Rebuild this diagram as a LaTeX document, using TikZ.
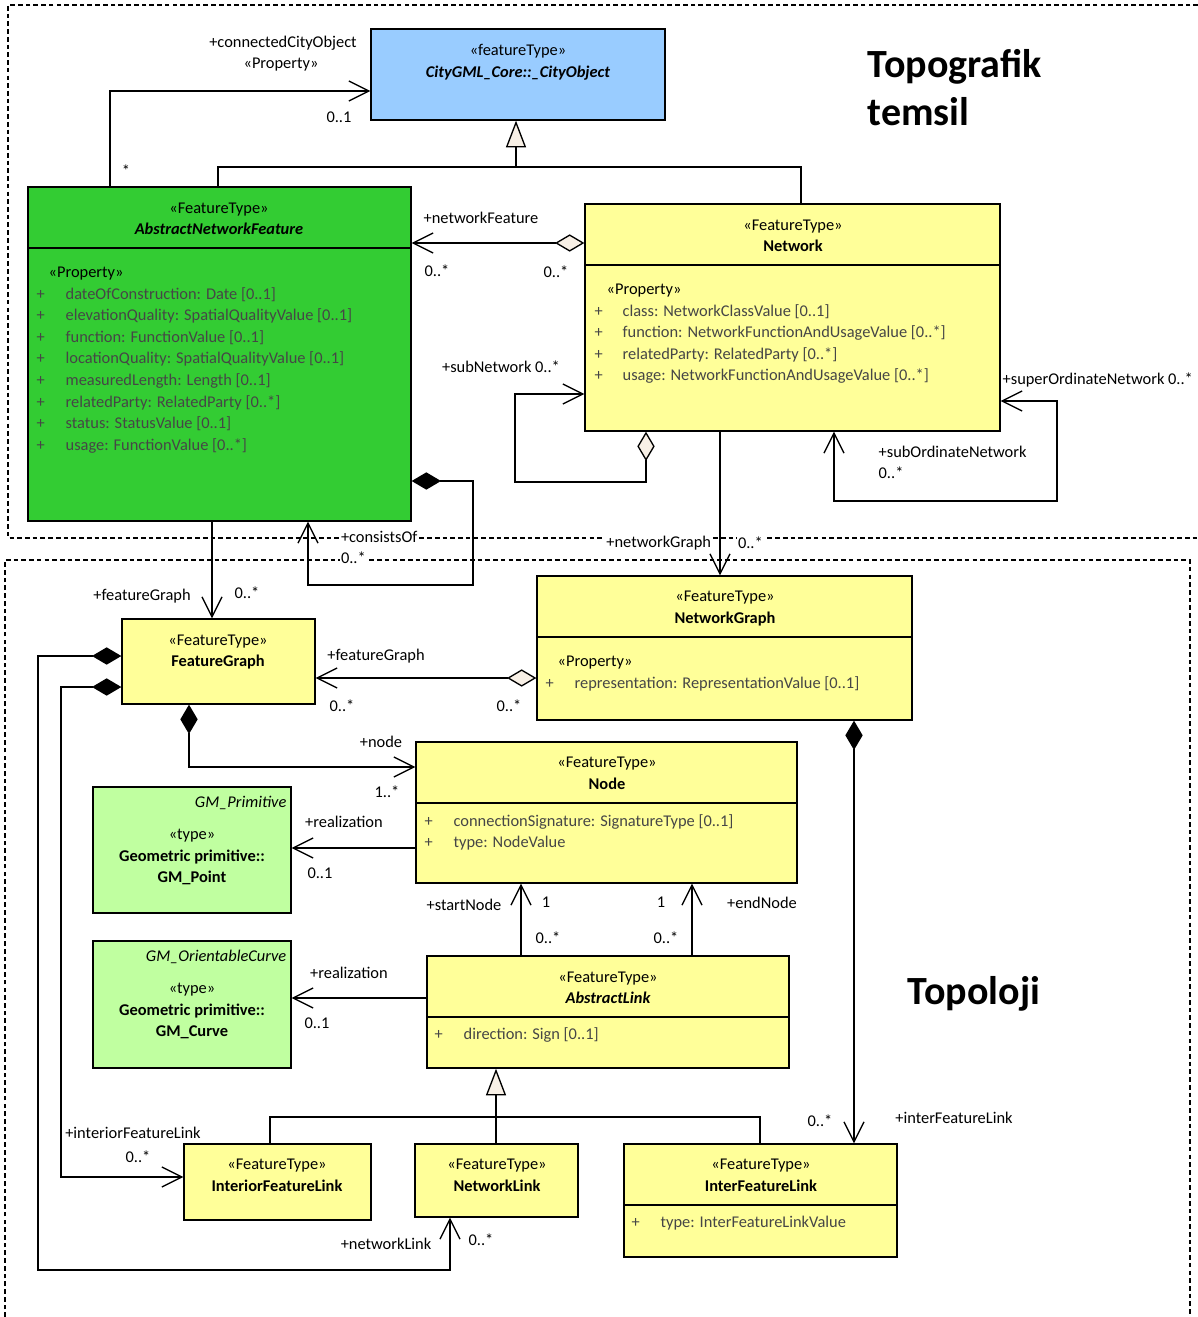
\documentclass[tikz,border=0pt]{standalone}
\usepackage{fontspec}
\setmainfont{Carlito}
\usetikzlibrary{arrows.meta,fit}
\definecolor{yel}{RGB}{255,255,153}
\definecolor{grn}{RGB}{51,204,51}
\definecolor{lgrn}{RGB}{192,255,160}
\definecolor{lblue}{RGB}{153,204,255}
\definecolor{dia}{RGB}{248,240,230}
\definecolor{attrc}{RGB}{70,70,70}
\begin{document}
\begin{tikzpicture}[x=0.75pt,y=-0.75pt,
  font=\fontsize{12.3}{15}\selectfont,
  ubarb/.tip={Straight Barb[length=15pt,width=15pt]},
  uodia/.tip={Diamond[length=22pt,width=13pt,fill=dia]},
  ufdia/.tip={Diamond[length=22pt,width=13pt]},
  utri/.tip={Triangle[length=20pt,width=15pt,fill=dia]},
  line width=1pt,
  box/.style={draw=black,line width=1pt,inner sep=0pt},
  txt/.style={inner sep=0pt,anchor=base},
  ltxt/.style={inner sep=0pt,anchor=base west},
  attr/.style={inner sep=0pt,anchor=base west,text=attrc},
  lbl/.style={inner sep=0pt,anchor=base},
  llbl/.style={inner sep=0pt,anchor=base west},
  wlbl/.style={inner sep=1pt,anchor=base west,fill=white},
  assoc/.style={-ubarb},
  aggr/.style={uodia-ubarb},
  comp/.style={ufdia-ubarb},
  gen/.style={-utri},
  region/.style={dashed,dash pattern=on 3.5pt off 2.3pt,line width=0.9pt},
  title/.style={inner sep=0pt,font=\fontsize{30}{36}\selectfont\bfseries}
]
\useasboundingbox (0,0) rectangle (1198,1317);
% regions
\draw[region] (1198,5) -- (8,5) -- (8,538) -- (1198,538);
\draw[region] (5,1317) -- (5,560) -- (1190,560) -- (1190,1317);

% titles
\node[title,anchor=base west] (ttopo1) at (867,77) {Topografik};
\node[title,anchor=base west] (ttopo2) at (867,125) {temsil};
\node[title,anchor=base] (ttopol) at (974,1004) {Topoloji};

% boxes
\node[box,fill=lblue,fit={(371,29)(665,120)}] (CO) {};
\node[box,fill=grn,fit={(28,187)(411,521)}] (ANF) {};
\node[box,fill=yel,fit={(585,204)(1000,431)}] (NW) {};
\node[box,fill=yel,fit={(537,576)(912,720)}] (NG) {};
\node[box,fill=yel,fit={(122,619)(315,704)}] (FG) {};
\node[box,fill=yel,fit={(416,742)(797,883)}] (ND) {};
\node[box,fill=lgrn,fit={(93,787)(291,913)}] (GP) {};
\node[box,fill=lgrn,fit={(93,941)(291,1068)}] (GC) {};
\node[box,fill=yel,fit={(427,956)(789,1068)}] (AL) {};
\node[box,fill=yel,fit={(184,1144)(371,1220)}] (IFL) {};
\node[box,fill=yel,fit={(415,1144)(578,1217)}] (NL) {};
\node[box,fill=yel,fit={(624,1144)(897,1257)}] (XFL) {};

% separators
\draw (ANF.west |- 0,248) -- (ANF.east |- 0,248);
\draw (NW.west |- 0,265) -- (NW.east |- 0,265);
\draw (NG.west |- 0,637) -- (NG.east |- 0,637);
\draw (ND.west |- 0,803) -- (ND.east |- 0,803);
\draw (AL.west |- 0,1017) -- (AL.east |- 0,1017);
\draw (XFL.west |- 0,1205) -- (XFL.east |- 0,1205);

% CityObject
\node[txt] (COs) at (518,55) {«featureType»};
\node[txt,font=\fontsize{12.3}{15}\selectfont\bfseries\itshape] (COn) at (518,77) {CityGML\_Core::\_CityObject};

% AbstractNetworkFeature
\node[txt] (ANFs) at (219,213) {«FeatureType»};
\node[txt,font=\fontsize{12.3}{15}\selectfont\bfseries\itshape] (ANFn) at (219,234) {AbstractNetworkFeature};
\node[ltxt] (ANFp) at (48,277) {«Property»};
\foreach \t [count=\i] in {dateOfConstruction: Date [0..1],elevationQuality: SpatialQualityValue [0..1],function: FunctionValue [0..1],locationQuality: SpatialQualityValue [0..1],measuredLength: Length [0..1],relatedParty: RelatedParty [0..*],status: StatusValue [0..1],usage: FunctionValue [0..*]}{
  \node[attr] (ANFa\i) at (65,{299+(\i-1)*21.6}) {\t};
  \node[attr] (ANFplus\i) at (36,{299+(\i-1)*21.6}) {+};
}

% Network
\node[txt] (NWs) at (793,230) {«FeatureType»};
\node[txt,font=\fontsize{12.3}{15}\selectfont\bfseries] (NWn) at (793,251) {Network};
\node[ltxt] (NWp) at (606,294) {«Property»};
\foreach \t [count=\i] in {class: NetworkClassValue [0..1],function: NetworkFunctionAndUsageValue [0..*],relatedParty: RelatedParty [0..*],usage: NetworkFunctionAndUsageValue [0..*]}{
  \node[attr] (NWa\i) at (622,{316+(\i-1)*21.6}) {\t};
  \node[attr] (NWplus\i) at (594,{316+(\i-1)*21.6}) {+};
}

% NetworkGraph
\node[txt] (NGs) at (725,601) {«FeatureType»};
\node[txt,font=\fontsize{12.3}{15}\selectfont\bfseries] (NGn) at (725,623) {NetworkGraph};
\node[ltxt] (NGp) at (557,666) {«Property»};
\node[attr] (NGa1) at (574,688) {representation: RepresentationValue [0..1]};
\node[attr] (NGplus1) at (545,688) {+};

% FeatureGraph
\node[txt] (FGs) at (218,645) {«FeatureType»};
\node[txt,font=\fontsize{12.3}{15}\selectfont\bfseries] (FGn) at (218,666) {FeatureGraph};

% Node
\node[txt] (NDs) at (607,767) {«FeatureType»};
\node[txt,font=\fontsize{12.3}{15}\selectfont\bfseries] (NDn) at (607,789) {Node};
\node[attr] (NDa1) at (453,826) {connectionSignature: SignatureType [0..1]};
\node[attr] (NDplus1) at (424,826) {+};
\node[attr] (NDa2) at (453,847) {type: NodeValue};
\node[attr] (NDplus2) at (424,847) {+};

% GM_Point
\node[inner sep=0pt,anchor=base east,font=\fontsize{12.3}{15}\selectfont\itshape] (GPt) at (287,807) {GM\_Primitive};
\node[txt] (GPs) at (192,839) {«type»};
\node[txt,font=\fontsize{12.3}{15}\selectfont\bfseries] (GPn1) at (192,861) {Geometric primitive::};
\node[txt,font=\fontsize{12.3}{15}\selectfont\bfseries] (GPn2) at (192,882) {GM\_Point};

% GM_Curve
\node[inner sep=0pt,anchor=base east,font=\fontsize{12.3}{15}\selectfont\itshape] (GCt) at (287,961) {GM\_OrientableCurve};
\node[txt] (GCs) at (192,993) {«type»};
\node[txt,font=\fontsize{12.3}{15}\selectfont\bfseries] (GCn1) at (192,1015) {Geometric primitive::};
\node[txt,font=\fontsize{12.3}{15}\selectfont\bfseries] (GCn2) at (192,1036) {GM\_Curve};

% AbstractLink
\node[txt] (ALs) at (608,982) {«FeatureType»};
\node[txt,font=\fontsize{12.3}{15}\selectfont\bfseries\itshape] (ALn) at (608,1003) {AbstractLink};
\node[attr] (ALa1) at (463,1039) {direction: Sign [0..1]};
\node[attr] (ALplus1) at (434,1039) {+};

% link classes
\node[txt] (IFLs) at (277,1169) {«FeatureType»};
\node[txt,font=\fontsize{12.3}{15}\selectfont\bfseries] (IFLn) at (277,1191) {InteriorFeatureLink};
\node[txt] (NLs) at (497,1169) {«FeatureType»};
\node[txt,font=\fontsize{12.3}{15}\selectfont\bfseries] (NLn) at (497,1191) {NetworkLink};
\node[txt] (XFLs) at (761,1169) {«FeatureType»};
\node[txt,font=\fontsize{12.3}{15}\selectfont\bfseries] (XFLn) at (761,1191) {InterFeatureLink};
\node[attr] (XFLa1) at (660,1227) {type: InterFeatureLinkValue};
\node[attr] (XFLplus1) at (631,1227) {+};

% ---------- connectors ----------
% connectedCityObject
\draw[assoc] (110,0 |- ANF.north) -- (110,91) -- (CO.west |- 0,91);
\node[lbl] (l1) at (283,47) {+connectedCityObject};
\node[lbl] (l2) at (281,68) {«Property»};
\node[lbl] (l3) at (339,122) {0..1};
\node[lbl] (l4) at (126,176) {*};

% generalization to CityObject
\draw[gen] (218,0 |- ANF.north) -- (218,167) -- (516,167) -- (516,0 |- CO.south);
\draw (801,0 |- NW.north) -- (801,167) -- (516,167);

% networkFeature
\draw[aggr] (NW.west |- 0,243) -- (ANF.east |- 0,243);
\node[lbl] (l5) at (481,223) {+networkFeature};
\node[lbl] (l6) at (437,276) {0..*};
\node[lbl] (l7) at (556,277) {0..*};

% subNetwork
\draw[aggr] (646,0 |- NW.south) -- (646,482) -- (515,482) -- (515,394) -- (NW.west |- 0,394);
\node[lbl] (l8) at (501,372) {+subNetwork 0..*};

% super/subOrdinate
\draw[ubarb-ubarb] (NW.east |- 0,401) -- (1057,401) -- (1057,501) -- (834,501) -- (834,0 |- NW.south);
\node[llbl] (l9) at (1002,384) {+superOrdinateNetwork 0..*};
\node[llbl] (l10) at (878,457) {+subOrdinateNetwork};
\node[llbl] (l11) at (878,478) {0..*};

% consistsOf
\draw[comp] (ANF.east |- 0,481) -- (473,481) -- (473,585) -- (308,585) -- (308,0 |- ANF.south);
\node[wlbl] (l12) at (339,542) {+consistsOf};
\node[wlbl] (l13) at (339,563) {0..*};

% featureGraph from ANF
\draw[assoc] (212,0 |- ANF.south) -- (212,0 |- FG.north);
\node[lbl] (l14) at (142,600) {+featureGraph};
\node[lbl] (l15) at (247,598) {0..*};

% networkGraph
\draw[assoc] (720,0 |- NW.south) -- (720,0 |- NG.north);
\node[wlbl,anchor=base east] (l16) at (713,547) {+networkGraph};
\node[wlbl] (l17) at (736,548) {0..*};

% NG -> FG
\draw[aggr] (NG.west |- 0,678) -- (FG.east |- 0,678);
\node[lbl] (l18) at (376,660) {+featureGraph};
\node[lbl] (l19) at (342,711) {0..*};
\node[lbl] (l20) at (509,711) {0..*};

% FG -> Node
\draw[comp] (189,0 |- FG.south) -- (189,767) -- (ND.west |- 0,767);
\node[lbl] (l21) at (381,747) {+node};
\node[lbl] (l22) at (387,797) {1..*};

% realization Node -> GM_Point
\draw[assoc] (ND.west |- 0,848) -- (GP.east |- 0,848);
\node[lbl] (l23) at (344,827) {+realization};
\node[lbl] (l24) at (320,878) {0..1};

% realization AL -> GM_Curve
\draw[assoc] (AL.west |- 0,998) -- (GC.east |- 0,998);
\node[lbl] (l25) at (349,978) {+realization};
\node[lbl] (l26) at (317,1028) {0..1};

% start / end node
\draw[assoc] (521,0 |- AL.north) -- (521,0 |- ND.south);
\node[lbl] (l27) at (464,910) {+startNode};
\node[lbl] (l28) at (546,907) {1};
\node[lbl] (l29) at (548,943) {0..*};
\draw[assoc] (692,0 |- AL.north) -- (692,0 |- ND.south);
\node[lbl] (l30) at (661,907) {1};
\node[lbl] (l31) at (762,908) {+endNode};
\node[lbl] (l32) at (666,943) {0..*};

% generalization to AbstractLink
\draw[gen] (496,0 |- NL.north) -- (496,0 |- AL.south);
\draw (270,0 |- IFL.north) -- (270,1117) -- (760,1117) -- (760,0 |- XFL.north);

% interFeatureLink
\draw[comp] (854,0 |- NG.south) -- (854,0 |- XFL.north);
\node[lbl] (l33) at (820,1126) {0..*};
\node[lbl] (l34) at (954,1123) {+interFeatureLink};

% interiorFeatureLink
\draw[comp] (FG.west |- 0,687) -- (61,687) -- (61,1177) -- (IFL.west |- 0,1177);
\node[lbl] (l35) at (133,1138) {+interiorFeatureLink};
\node[lbl] (l36) at (138,1162) {0..*};

% networkLink
\draw[comp] (FG.west |- 0,656) -- (38,656) -- (38,1270) -- (450,1270) -- (450,0 |- NL.south);
\node[lbl] (l37) at (386,1249) {+networkLink};
\node[lbl] (l38) at (481,1245) {0..*};
\end{tikzpicture}
\end{document}
